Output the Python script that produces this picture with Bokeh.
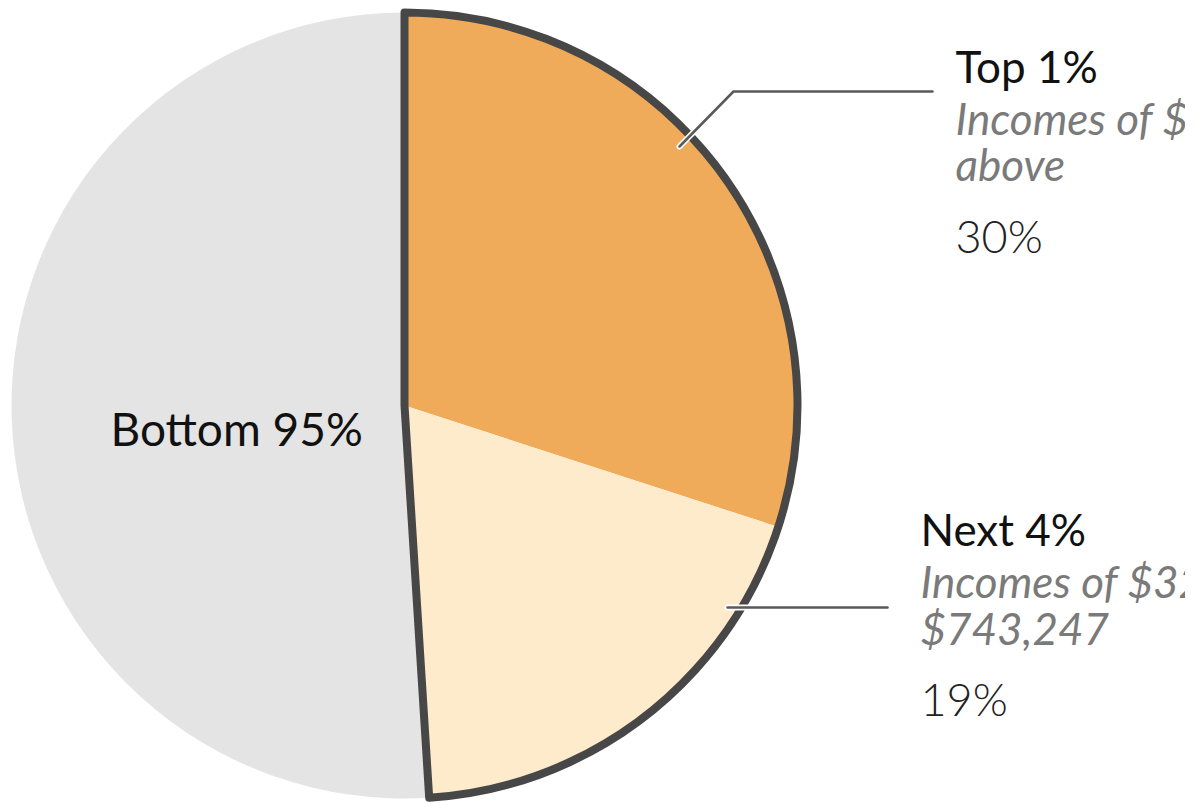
import numpy as np
from bokeh.plotting import figure
from bokeh.models import Range1d, ColumnDataSource
from bokeh.core.properties import value
from bokeh.embed import file_html
from bokeh.resources import INLINE

# ---- data ----
groups = ["Top 1%", "Next 4%", "Bottom 95%"]
shares = [30, 19, 51]
colors = ["#F0AB5A", "#FDEBCC", "#E4E4E4"]
descriptions = [["Incomes of $743,248 and", "above"],
                ["Incomes of $321,400 to", "$743,247"]]
share_labels = ["30%", "19%"]

W, H = 1185, 803
p = figure(width=W, height=H, output_backend="svg", toolbar_location=None,
           x_range=Range1d(0, W), y_range=Range1d(0, H), min_border=0)
p.axis.visible = False
p.grid.visible = False
p.outline_line_color = None
p.background_fill_color = "white"
p.border_fill_color = "white"

cx, cy, r = 404, H - 405, 393

# angles: start at 12 o'clock, go clockwise
frac = np.array(shares, dtype=float) / sum(shares)
ends = np.pi / 2 - 2 * np.pi * np.cumsum(frac)
starts = np.concatenate([[np.pi / 2], ends[:-1]])
src = ColumnDataSource(dict(start=starts, end=ends, color=colors, name=groups))
p.wedge(x=cx, y=cy, radius=r, start_angle="start", end_angle="end",
        direction="clock", fill_color="color", line_color=None, source=src)

# outline around the top 5% (top 1% + next 4%)
p.wedge(x=cx, y=cy, radius=r, start_angle=starts[0], end_angle=ends[1],
        direction="clock", fill_color=None, line_color="#474747",
        line_width=8, line_join="round")

# leader lines (annotation layout, pixel positions)
lead1_x = [679, 733, 932]
lead1_y = [H - 146, H - 91, H - 91]
lead2_x = [727, 887]
lead2_y = [H - 607, H - 607]
for lx, ly in [(lead1_x, lead1_y), (lead2_x, lead2_y)]:
    p.line(lx, ly, line_color="white", line_width=6, line_cap="round", line_join="round")
    p.line(lx, ly, line_color="#5A5A5A", line_width=2.5, line_cap="round", line_join="round")

# labels (baselines in pixels from top; OFF compensates text baseline placement)
OFF = 19
def Y(py):
    return H - py + OFF

font = value("Lato")
p.text(x=[110], y=[Y(447)], text=[groups[2]], text_font=font,
       text_font_size="46px", text_color="#111111", text_baseline="alphabetic")

tx = [955, 920]
base_title = [84, 547]
base_desc = [[136, 182], [599, 646]]
base_pct = [254, 717]
for i in range(2):
    p.text(x=[tx[i]], y=[Y(base_title[i])], text=[groups[i]], text_font=font,
           text_font_size="44px", text_color="#111111", text_baseline="alphabetic")
    p.text(x=[tx[i], tx[i]], y=[Y(b) for b in base_desc[i]], text=descriptions[i],
           text_font=font, text_font_style="italic", text_font_size="44px",
           text_color="#7A7A7A", text_baseline="alphabetic")
    p.text(x=[tx[i]], y=[Y(base_pct[i])], text=[share_labels[i]], text_font=value("Lato Light"),
           text_font_size="45px", text_color="#222222", text_baseline="alphabetic")

open("out.html", "w").write(file_html(p, INLINE))
